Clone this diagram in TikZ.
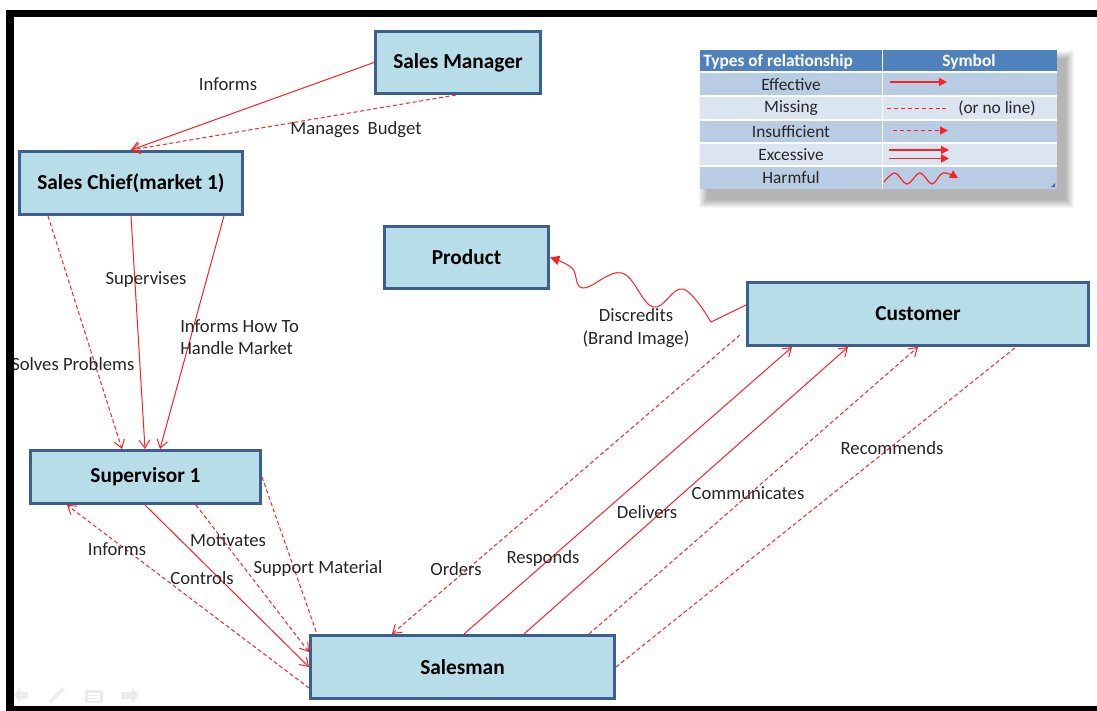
\documentclass[tikz,border=0pt]{standalone}
\usepackage{fontspec}
\setmainfont{Carlito}
\usetikzlibrary{arrows.meta,calc}
\definecolor{boxfill}{HTML}{B7DDE8}
\definecolor{boxline}{HTML}{3D5F8D}
\definecolor{rel}{HTML}{FF2020}
\definecolor{hdr}{HTML}{4F81BD}
\definecolor{rowdark}{HTML}{B8CCE4}
\definecolor{rowlight}{HTML}{DBE5F1}
\definecolor{labeltext}{HTML}{262626}
\definecolor{iconfaint}{HTML}{ECECEC}
\begin{document}
\begin{tikzpicture}[x=0.75pt,y=-0.75pt,
  entity/.style={draw=boxline, fill=boxfill, line width=2.25pt, inner sep=0pt,
    font=\fontsize{16}{19}\selectfont\bfseries},
  lbl/.style={font=\fontsize{14}{17}\selectfont, text=labeltext, inner sep=0pt, align=left},
  legtxt/.style={font=\fontsize{13}{15}\selectfont, text=labeltext, inner sep=0pt},
  rline/.style={draw=rel, line width=0.75pt},
  effective/.style={rline, -{Straight Barb[length=6pt,width=8pt]}},
  weak/.style={rline, dash pattern=on 3pt off 2pt, -{Straight Barb[length=6pt,width=8pt]}},
  missing/.style={rline, dash pattern=on 3pt off 2pt},
  harm/.style={rline, -{Triangle[length=7pt,width=7pt]}},
  legline/.style={draw=rel, line width=1.1pt},
  legtip/.style={-{Triangle[length=6pt,width=6pt]}}
]
\useasboundingbox (0,0) rectangle (1097,711);
\fill[white] (0,0) rectangle (1097,711);

% ---------- entities ----------
\node[entity, minimum width=123.75pt, minimum height=46.5pt]  (sm) at (458,62.5)  {Sales Manager};
\node[entity, minimum width=167.25pt, minimum height=47.25pt] (sc) at (131,183)   {Sales Chief(market 1)};
\node[entity, minimum width=123pt,    minimum height=46.5pt]  (pr) at (466.5,257.5) {Product};
\node[entity, minimum width=255.75pt, minimum height=47.25pt] (cu) at (918,314)   {Customer};
\node[entity, minimum width=172.5pt,  minimum height=39.75pt] (su) at (145.5,477) {Supervisor 1};
\node[entity, minimum width=228pt,    minimum height=47.25pt] (sa) at (462.5,667) {Salesman};

% ---------- Sales Manager -> Sales Chief ----------
\draw[effective] (sm.west) -- (sc.north);
\draw[weak] ($(sm.south west)+(82,0)$) -- (sc.north);
\node[lbl] (l1) at (228,84) {Informs};
\node[lbl] (l2) at (356,130) {Manages\ \ Budget};

% ---------- Sales Chief -> Supervisor ----------
\draw[weak]      ($(sc.south west)+(30,0)$)  -- ($(su.north west)+(93,0)$);
\draw[effective] ($(sc.south west)+(113,0)$) -- ($(su.north west)+(116,0)$);
\draw[effective] ($(sc.south west)+(206,0)$) -- ($(su.north west)+(131,0)$);
\node[lbl, anchor=west] (l3) at (11,364) {Solves Problems};
\node[lbl] (l4) at (146,280) {Supervises};
\node[lbl, anchor=west] (l5) at (180,337) {Informs How To\\Handle Market};

% ---------- Supervisor <-> Salesman ----------
\draw[weak]      ($(sa.south west)+(0,-12)$) -- ($(su.south west)+(38,0)$);
\draw[effective] ($(su.south west)+(116,0)$) -- (sa.west);
\draw[weak]      ($(su.south west)+(167,0)$) -- ($(sa.north west)+(0,18)$);
\draw[missing]   (su.east) -- ($(sa.north west)+(8,0)$);
\node[lbl] (l6) at (117,549) {Informs};
\node[lbl] (l7) at (228,540) {Motivates};
\node[lbl] (l8) at (202,578) {Controls};
\node[lbl] (l9) at (318,569) {Support Material};

% ---------- Salesman <-> Customer ----------
\coordinate (ordstart) at ($(cu.south west)+(-6,-12)$);
\draw[weak]      (ordstart) -- ($(sa.north west)+(83,0)$);
\draw[effective] ($(sa.north west)+(155,0)$) -- ($(cu.south west)+(46,0)$);
\draw[effective] ($(sa.north west)+(215,0)$) -- ($(cu.south west)+(102,0)$);
\draw[weak]      ($(sa.north west)+(280,0)$) -- ($(cu.south west)+(172,0)$);
\draw[missing]   (sa.east) -- ($(cu.south west)+(270,0)$);
\node[lbl] (l10) at (456,569) {Orders};
\node[lbl] (l11) at (543,559) {Responds};
\node[lbl] (l12) at (647,512) {Delivers};
\node[lbl] (l13) at (748,493) {Communicates};
\node[lbl] (l14) at (892,448) {Recommends};

% ---------- Customer -> Product (harmful) ----------
\draw[harm] ($(cu.west)+(0,-9)$) -- (711,322)
  -- plot[smooth, tension=0.65] coordinates {(711,322) (683,289) (653,307) (622,273) (583,288) (572,268) (pr.east)};
\node[lbl, align=center] (l15) at (636,328) {Discredits\\(Brand Image)};

% ---------- legend table ----------
\foreach \i in {1,...,9}
  \fill[black, opacity=0.035] (700+8-\i,50+10-\i) rectangle (1057+8+\i,189+10+\i);
\fill[hdr] (700,50) rectangle (1057,72);
\fill[rowdark]  (700,72)  rectangle (1057,96);
\fill[rowlight] (700,96)  rectangle (1057,120);
\fill[rowdark]  (700,120) rectangle (1057,143);
\fill[rowlight] (700,143) rectangle (1057,166);
\fill[rowdark]  (700,166) rectangle (1057,189);
\foreach \yy in {72,96,120,143,166}
  \draw[white, line width=1.1pt] (700,\yy) -- (1057,\yy);
\draw[white, line width=1.1pt] (882.5,50) -- (882.5,189);
\fill[hdr!80!blue] (1051,187) -- (1055,187) -- (1055,183) -- cycle;

\node[legtxt, text=white, font=\fontsize{13}{15}\selectfont\bfseries, anchor=west] (th1) at (703,61.5) {Types of relationship};
\node[legtxt, text=white, font=\fontsize{13}{15}\selectfont\bfseries] (th2) at (969,61.5) {Symbol};
\node[legtxt] (r1) at (791,85)  {Effective};
\node[legtxt] (r2) at (791,108) {Missing};
\node[legtxt] (r3) at (791,131.5) {Insufficient};
\node[legtxt] (r4) at (791,155) {Excessive};
\node[legtxt] (r5) at (791,178) {Harmful};
\node[legtxt, anchor=west] (r2b) at (958,108.5) {(or no line)};

\draw[legline, legtip] (890,82) -- (947,82);
\draw[legline, dash pattern=on 3pt off 2.2pt] (887,108.5) -- (946,108.5);
\draw[legline, dash pattern=on 3pt off 2.2pt, legtip] (893,130.5) -- (948,130.5);
\draw[legline, legtip] (889,150) -- (949,150);
\draw[legline, legtip] (889,158.5) -- (949,158.5);
\draw[legline, line width=0.9pt, legtip] plot[smooth, tension=0.6] coordinates
  {(884,182) (895,173) (907,184) (920,173) (932,184) (943,173) (958,178)};

% ---------- faint slide-show controls ----------
\fill[iconfaint] (14,695) -- (20,688) -- (20,692) -- (28,692) -- (28,699) -- (20,699) -- (20,703) -- cycle;
\draw[iconfaint, line width=2.6pt] (50,702) -- (64,688);
\fill[iconfaint, rounded corners=1pt] (85,690) rectangle (103,703);
\draw[white, line width=0.8pt] (88,694) -- (100,694) (88,697) -- (100,697) (88,700) -- (100,700);
\fill[iconfaint] (139,695) -- (132,688) -- (132,692) -- (121,692) -- (121,699) -- (132,699) -- (132,703) -- cycle;

% ---------- slide frame ----------
\fill[black] (7,10) rectangle (1097,17);
\fill[black] (6,10) rectangle (14,711);
\fill[black] (6,706) rectangle (1097,711);
\end{tikzpicture}
\end{document}
